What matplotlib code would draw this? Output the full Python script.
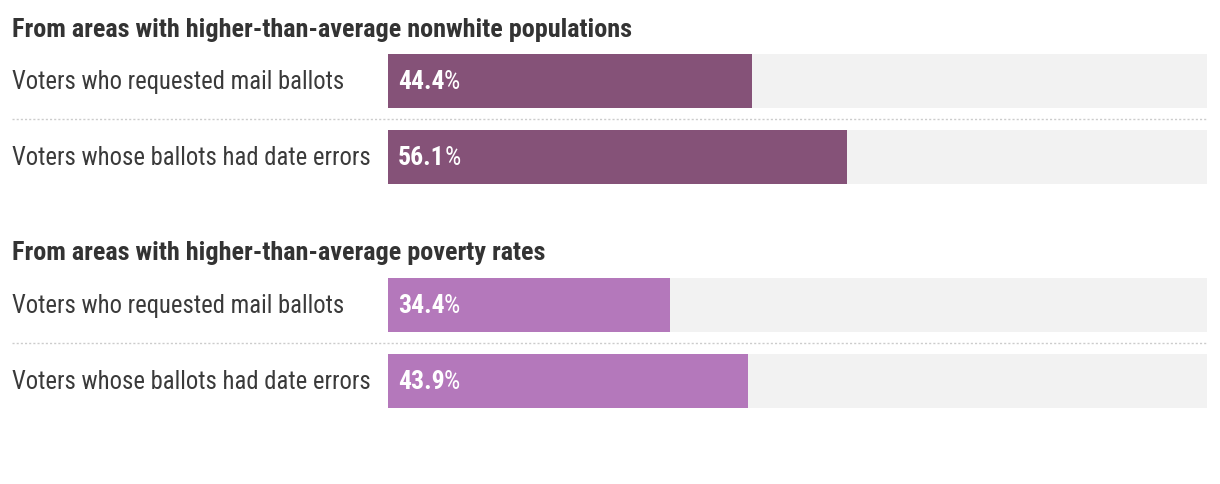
import matplotlib
matplotlib.use("Agg")
import matplotlib.pyplot as plt
from matplotlib import font_manager

groups = ["From areas with higher-than-average nonwhite populations",
          "From areas with higher-than-average poverty rates"]
categories = ["Voters who requested mail ballots",
              "Voters whose ballots had date errors"]
values_nonwhite = [44.4, 56.1]
values_poverty = [34.4, 43.9]
group_values = [values_nonwhite, values_poverty]
group_colors = ["#855278", "#b478bb"]

names = {f.name for f in font_manager.fontManager.ttflist}
fam = [f for f in ["Roboto Condensed", "Liberation Sans Narrow", "Open Sans Condensed"] if f in names] + ["DejaVu Sans"]
plt.rcParams['font.family'] = fam

W, H = 1220, 484
fig = plt.figure(figsize=(W / 100, H / 100), dpi=100)
fig.patch.set_facecolor("white")

x0, x1 = 388, 1207
ax = fig.add_axes([x0 / W, 0, (x1 - x0) / W, 1])
ax.set_xlim(0, 100)
ax.set_ylim(H, 0)
ax.axis("off")

# layout (pixel rows)
title_y = [30, 253]
bar_centers = [[81, 157], [305, 381]]
sep_y = [119, 343]
bar_h = 53.5

fig.canvas.draw()
renderer = fig.canvas.get_renderer()

for g, (gname, vals, col) in enumerate(zip(groups, group_values, group_colors)):
    fig.text(12 / W, 1 - title_y[g] / H, gname, fontsize=18.9, fontweight="bold",
             color="#333333", va="center", ha="left")
    for i, (cat, v) in enumerate(zip(categories, vals)):
        yc = bar_centers[g][i]
        ax.barh(yc, 100, height=bar_h, left=0, color="#f2f2f2", zorder=1)
        ax.barh(yc, v, height=bar_h, left=0, color=col, zorder=2)
        fig.text(12 / W, 1 - (yc + 1) / H, cat, fontsize=17.7, color="#3a3a3a",
                 va="center", ha="left")
        t = ax.text(1.2, yc + 1, f"{v:.1f}", fontsize=18.5, fontweight="bold",
                    color="white", va="center", ha="left", zorder=3)
        bb = t.get_window_extent(renderer=renderer)
        ax.annotate("%", xy=(1.2, yc + 1), xycoords="data",
                    xytext=(bb.width * 72 / 100 - 0.3, 0), textcoords="offset points",
                    fontsize=18.5, color="white", va="center", ha="left", zorder=3)
    fig.add_artist(plt.Line2D([12 / W, x1 / W], [1 - sep_y[g] / H] * 2,
                              transform=fig.transFigure, color="#cccccc",
                              lw=1, linestyle=(0, (1.5, 1.5))))

fig.savefig("out.png", dpi=100, facecolor="white")
